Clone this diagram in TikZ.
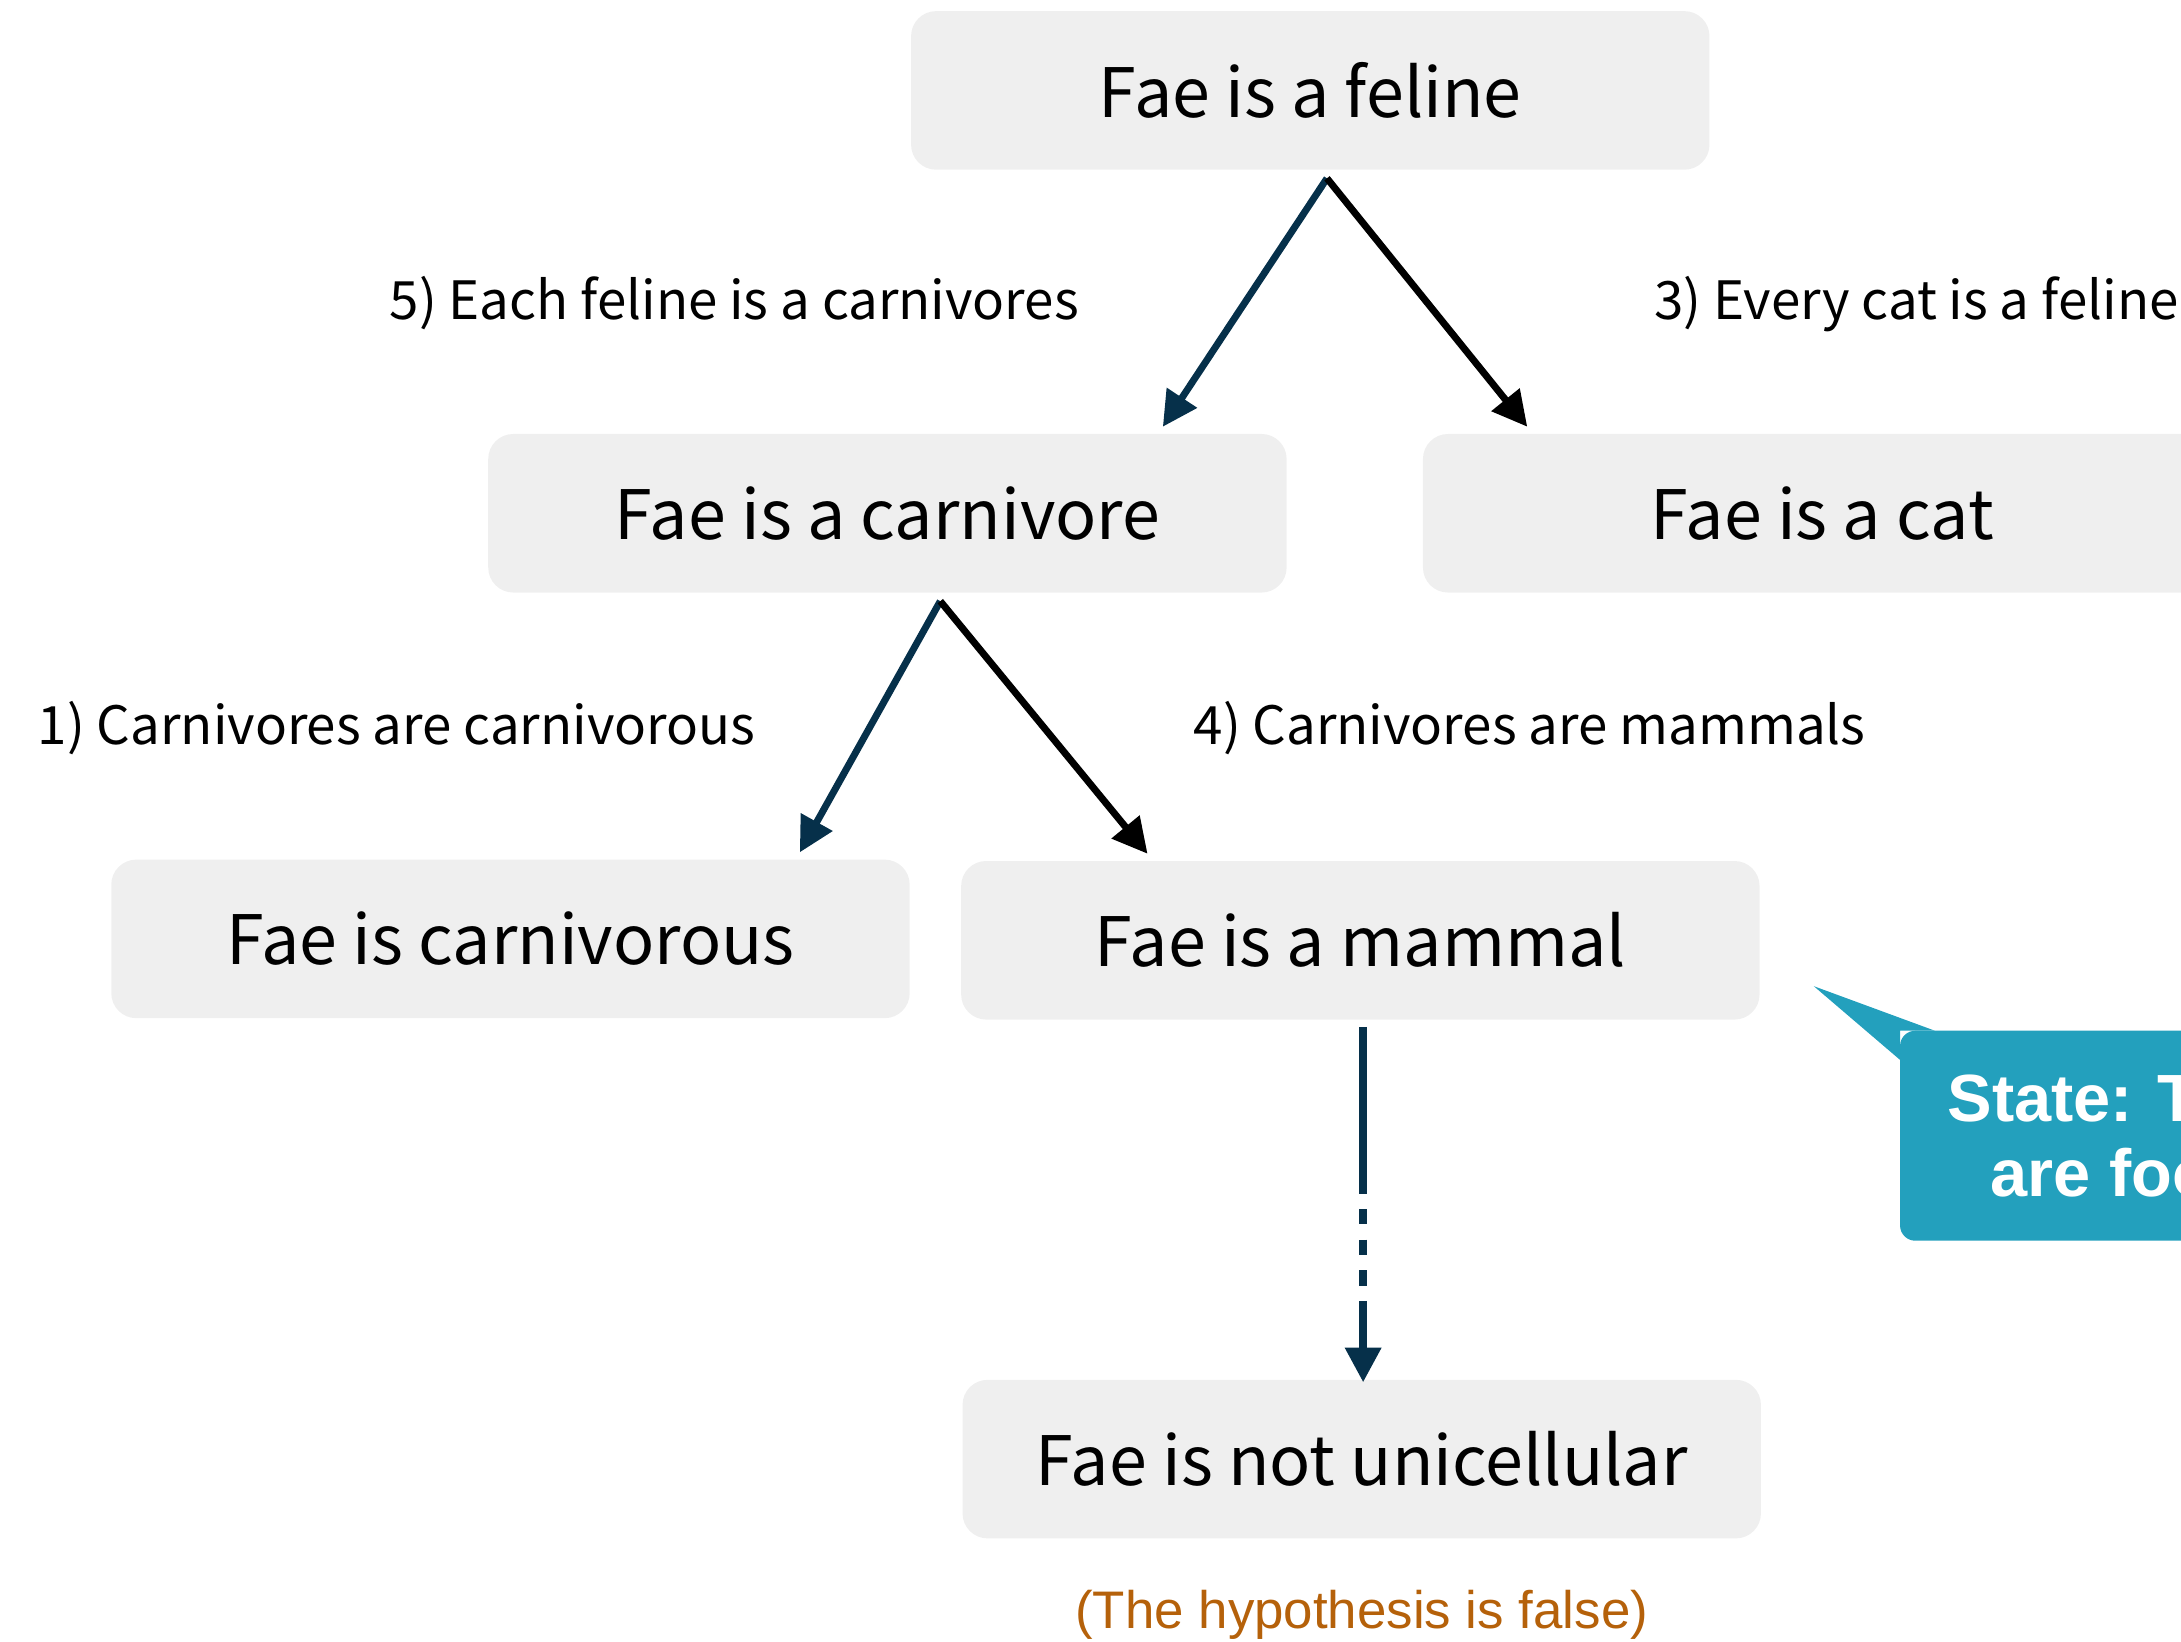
\documentclass[tikz,border=0pt]{standalone}
\usepackage{fontspec}
\setmainfont{Noto Sans CJK KR}
\newfontfamily\helv{Liberation Sans}
\usetikzlibrary{arrows.meta,positioning}
\definecolor{boxgray}{HTML}{EFEFEF}
\definecolor{navyline}{HTML}{06304A}
\definecolor{calloutblue}{HTML}{23A0BD}
\definecolor{verdictorange}{HTML}{B5610A}

\begin{document}
\begin{tikzpicture}[
		x=1pt, y=-1pt,
		fact/.style={fill=boxgray, rounded corners=18pt, minimum width=574pt, minimum height=114pt, inner sep=0pt, font=\fontsize{49}{59}\selectfont},
		rulelabel/.style={anchor=base west, inner sep=0pt, font=\fontsize{38}{46}\selectfont},
		link/.style={line width=5pt, -{Triangle[length=25pt,width=25pt]}}
		]
		\useasboundingbox (0,0) rectangle (1568,1180);
		\clip (0,0) rectangle (1568,1180);
		% Facts
		\node[fact] (feline) at (942,65) {Fae is a feline};
		\node[fact] (carnivore) at (638,369) {Fae is a carnivore};
		\node[fact] (cat) at (1310,369) {Fae is a cat};
		\node[fact] (carnivorous) at (367,675) {Fae is carnivorous};
		\node[fact] (mammal) at (978,676) {Fae is a mammal};
		\node[fact] (unicellular) at (979,1049) {Fae is not unicellular};
		
		% Rules
		\node[rulelabel] (rulefive) at (280,230) {5) Each feline is a carnivores};
		\node[rulelabel] (rulethree) at (1189,230) {3) Every cat is a feline};
		\node[rulelabel] (ruleone) at (27,535) {1) Carnivores are carnivorous};
		\node[rulelabel] (rulefour) at (858,535) {4) Carnivores are mammals};
		
		% Arrows
		\draw[link, navyline] ([shift={(12,6)}]feline.south) -- ([shift={(198,-5)}]carnivore.north);
		\draw[link, black] ([shift={(12,6)}]feline.south) -- ([shift={(-212,-5)}]cat.north);
		\draw[link, navyline] ([shift={(38,6)}]carnivore.south) -- ([shift={(208,-5)}]carnivorous.north);
		\draw[link, black] ([shift={(38,6)}]carnivore.south) -- ([shift={(-153,-5)}]mammal.north);
		\draw[link, navyline, line width=5.5pt, dash pattern=on 120pt off 11pt on 11pt off 11pt on 11pt off 11pt on 11pt off 11pt on 300pt] ([shift={(2,5)}]mammal.south) -- ([shift={(1,2)}]unicellular.north);
		
		% Verdict
		\node[anchor=base, inner sep=0pt, text=verdictorange, font=\helv\fontsize{38}{46}\selectfont] (verdict) at (979,1171) {(The hypothesis is false)};
		
		% State callout
		\fill[calloutblue, rounded corners=11pt] (1366,741) rectangle (1640,892);
		\fill[calloutblue] (1304,709) -- (1391,741) -- (1366,741) -- (1366,762) -- cycle;
		\node[anchor=base west, inner sep=0pt, text=white, font=\helv\bfseries\fontsize{48}{55}\selectfont] (state) at (1400,806) {State: T};
		\node[anchor=base west, inner sep=0pt, text=white, font=\helv\bfseries\fontsize{48}{55}\selectfont] (statenext) at (1431,860) {are foo};
	\end{tikzpicture}
\end{document}
